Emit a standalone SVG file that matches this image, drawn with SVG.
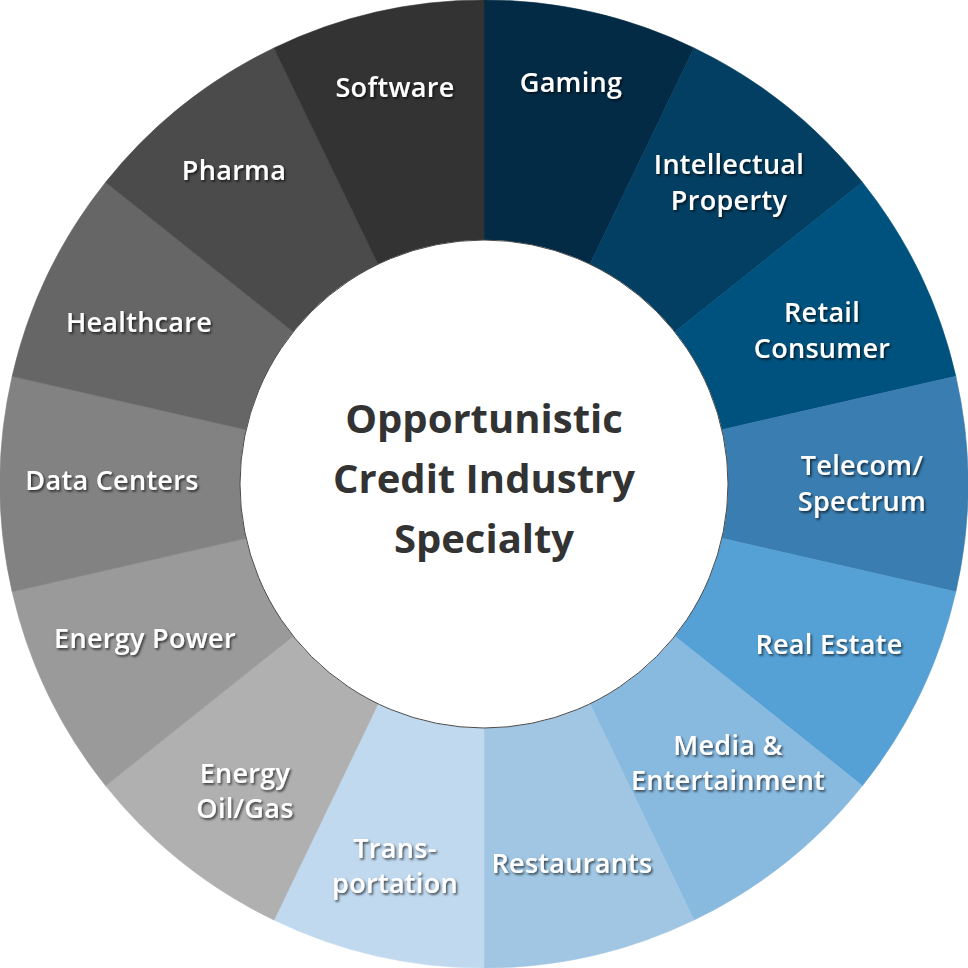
<svg xmlns="http://www.w3.org/2000/svg" width="968" height="968" viewBox="0 0 968 968">
<defs>
<filter id="ts" x="-20%" y="-40%" width="140%" height="180%">
<feDropShadow dx="1.5" dy="1.8" stdDeviation="1" flood-color="#000" flood-opacity="0.65"/>
</filter>
<style>
.lbl{font-family:"Open Sans","Noto Sans","DejaVu Sans",sans-serif;font-weight:600;font-size:27px;letter-spacing:0.3px;fill:#fff;text-anchor:middle;filter:url(#ts)}
.ctr{font-family:"Open Sans","Noto Sans","DejaVu Sans",sans-serif;font-weight:700;font-size:40px;fill:#333;text-anchor:middle}
.seg{stroke-width:0.6}
</style>
</defs>
<rect width="968" height="968" fill="#fff"/>
<g id="gaming"><path class="seg" fill="#032b45" stroke="#032b45" d="M484,0 A484,484 0 0 1 694.00,47.93 L589.87,264.16 A244,244 0 0 0 484,240 Z"/><text class="lbl" x="571" y="92">Gaming</text></g>
<g id="intellectual-property"><path class="seg" fill="#033f62" stroke="#033f62" d="M694.00,47.93 A484,484 0 0 1 862.41,182.23 L674.77,331.87 A244,244 0 0 0 589.87,264.16 Z"/><text class="lbl" x="729" y="174">Intellectual</text><text class="lbl" x="729" y="210">Property</text></g>
<g id="retail-consumer"><path class="seg" fill="#00527e" stroke="#00527e" d="M862.41,182.23 A484,484 0 0 1 955.87,376.30 L721.88,429.70 A244,244 0 0 0 674.77,331.87 Z"/><text class="lbl" x="822" y="322">Retail</text><text class="lbl" x="822" y="358">Consumer</text></g>
<g id="telecom-spectrum"><path class="seg" fill="#3a7db0" stroke="#3a7db0" d="M955.87,376.30 A484,484 0 0 1 955.87,591.70 L721.88,538.30 A244,244 0 0 0 721.88,429.70 Z"/><text class="lbl" x="862" y="475">Telecom/</text><text class="lbl" x="862" y="511">Spectrum</text></g>
<g id="real-estate"><path class="seg" fill="#55a0d4" stroke="#55a0d4" d="M955.87,591.70 A484,484 0 0 1 862.41,785.77 L674.77,636.13 A244,244 0 0 0 721.88,538.30 Z"/><text class="lbl" x="829" y="654">Real Estate</text></g>
<g id="media-entertainment"><path class="seg" fill="#88b9df" stroke="#88b9df" d="M862.41,785.77 A484,484 0 0 1 694.00,920.07 L589.87,703.84 A244,244 0 0 0 674.77,636.13 Z"/><text class="lbl" x="728" y="755">Media &amp;</text><text class="lbl" x="728" y="790">Entertainment</text></g>
<g id="restaurants"><path class="seg" fill="#a0c6e3" stroke="#a0c6e3" d="M694.00,920.07 A484,484 0 0 1 484,968 L484,728 A244,244 0 0 0 589.87,703.84 Z"/><text class="lbl" x="572" y="873">Restaurants</text></g>
<g id="transportation"><path class="seg" fill="#c0d9ee" stroke="#c0d9ee" d="M484,968 A484,484 0 0 1 274.00,920.07 L378.13,703.84 A244,244 0 0 0 484,728 Z"/><text class="lbl" x="395" y="858">Trans-</text><text class="lbl" x="395" y="893">portation</text></g>
<g id="energy-oil-gas"><path class="seg" fill="#b0b0b0" stroke="#b0b0b0" d="M274.00,920.07 A484,484 0 0 1 105.59,785.77 L293.23,636.13 A244,244 0 0 0 378.13,703.84 Z"/><text class="lbl" x="245" y="783">Energy</text><text class="lbl" x="245" y="818">Oil/Gas</text></g>
<g id="energy-power"><path class="seg" fill="#9a9a9a" stroke="#9a9a9a" d="M105.59,785.77 A484,484 0 0 1 12.13,591.70 L246.12,538.30 A244,244 0 0 0 293.23,636.13 Z"/><text class="lbl" x="145" y="648">Energy Power</text></g>
<g id="data-centers"><path class="seg" fill="#828282" stroke="#828282" d="M12.13,591.70 A484,484 0 0 1 12.13,376.30 L246.12,429.70 A244,244 0 0 0 246.12,538.30 Z"/><text class="lbl" x="112" y="490">Data Centers</text></g>
<g id="healthcare"><path class="seg" fill="#666666" stroke="#666666" d="M12.13,376.30 A484,484 0 0 1 105.59,182.23 L293.23,331.87 A244,244 0 0 0 246.12,429.70 Z"/><text class="lbl" x="139" y="332">Healthcare</text></g>
<g id="pharma"><path class="seg" fill="#4b4b4b" stroke="#4b4b4b" d="M105.59,182.23 A484,484 0 0 1 274.00,47.93 L378.13,264.16 A244,244 0 0 0 293.23,331.87 Z"/><text class="lbl" x="234" y="180">Pharma</text></g>
<g id="software"><path class="seg" fill="#333333" stroke="#333333" d="M274.00,47.93 A484,484 0 0 1 484,0 L484,240 A244,244 0 0 0 378.13,264.16 Z"/><text class="lbl" x="395" y="97">Software</text></g>
<g id="center"><circle cx="484" cy="484" r="244" fill="#fff" stroke="#4a4a4a" stroke-width="1"/><text class="ctr" x="484" y="433">Opportunistic</text><text class="ctr" x="484" y="493">Credit Industry</text><text class="ctr" x="484" y="553">Specialty</text></g>
</svg>
